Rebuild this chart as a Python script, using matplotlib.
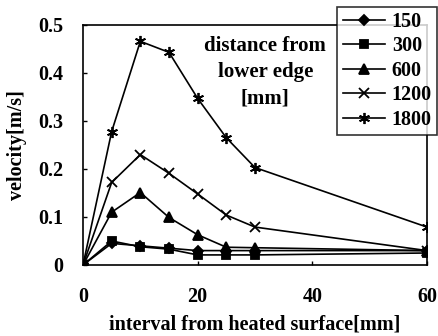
import matplotlib
matplotlib.use("Agg")
import matplotlib.pyplot as plt

# interval from heated surface [mm]
interval = [0, 5, 10, 15, 20, 25, 30, 60]

# velocity [m/s] at each distance from the lower edge
v_150 = [0, 0.045, 0.040, 0.035, 0.030, 0.030, 0.030, 0.030]
v_300 = [0, 0.050, 0.038, 0.033, 0.021, 0.021, 0.021, 0.025]
v_600 = [0, 0.110, 0.151, 0.099, 0.063, 0.037, 0.036, 0.030]
v_1200 = [0, 0.172, 0.230, 0.191, 0.148, 0.104, 0.079, 0.030]
v_1800 = [0, 0.278, 0.466, 0.443, 0.347, 0.265, 0.203, 0.079]

labels = ["150", "300", "600", "1200", "1800"]
series = [v_150, v_300, v_600, v_1200, v_1800]
markers = ["D", "s", "^", "x", (6, 2, 0)]
msizes = [5, 5.5, 6.5, 7, 8]

plt.rcParams["font.family"] = ["Liberation Serif", "DejaVu Serif"]
plt.rcParams["font.weight"] = "bold"

fig = plt.figure(figsize=(4.38, 3.36), dpi=100)
ax = fig.add_axes([83 / 438, 1 - 265 / 336, 344 / 438, 240 / 336])

for lab, y, m, ms in zip(labels, series, markers, msizes):
    ax.plot(interval, y, color="black", lw=1.2, marker=m, ms=ms,
            mew=1.3, mfc="black", mec="black", label=lab)

ax.set_xlim(0, 60)
ax.set_ylim(0, 0.5)
ax.set_xticks([0, 20, 40, 60])
ax.set_yticks([0, 0.1, 0.2, 0.3, 0.4, 0.5])
ax.set_yticklabels(["0", "0.1", "0.2", "0.3", "0.4", "0.5"])
ax.tick_params(direction="in", length=3, width=1, labelsize=14.5)
ax.tick_params(axis="x", pad=16)
ax.tick_params(axis="y", pad=14)
for lbl in ax.get_xticklabels() + ax.get_yticklabels():
    lbl.set_fontweight("bold")
for sp in ax.spines.values():
    sp.set_linewidth(1.2)

ax.set_xlabel("interval from heated surface[mm]", fontsize=14.5,
              fontweight="bold", labelpad=5)
ax.set_ylabel("velocity[m/s]", fontsize=14.5, fontweight="bold", labelpad=8)

ax.text(0.53, 0.955, "distance from\nlower edge\n[mm]", transform=ax.transAxes,
        ha="center", va="top", fontsize=15, fontweight="bold",
        linespacing=1.42)

leg = fig.legend(loc="upper right", bbox_to_anchor=(437 / 438, 1 - 7 / 336),
                 fontsize=14.5, frameon=True, fancybox=False, handlelength=2.1,
                 handletextpad=0.35, borderpad=0.25, labelspacing=0.22,
                 borderaxespad=0)
leg.get_frame().set_edgecolor("black")
leg.get_frame().set_linewidth(1.2)
for t in leg.get_texts():
    t.set_fontweight("bold")

fig.savefig("out.png", dpi=100)
